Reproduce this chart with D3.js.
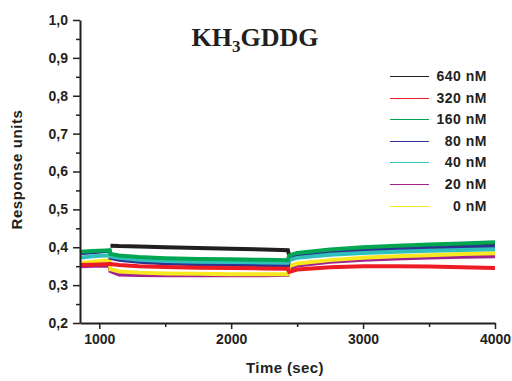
<!DOCTYPE html>
<html>
<head>
<meta charset="utf-8">
<script src="https://cdn.jsdelivr.net/npm/d3@7"></script>
<style>
  body { margin: 0; background: #fff; }
  text { font-family: "Liberation Sans", Arial, sans-serif; font-weight: bold; fill: #231f20; }
  .axis path, .axis line { stroke: #231f20; }
</style>
</head>
<body>
<div id="chart"></div>
<script>
// sampled time points (sec): before step, association, dissociation
var times = [854, 950, 1078,
    1085, 1150, 1300, 1500, 1750, 2000, 2250, 2430,
    2440, 2500, 2750, 3000, 3250, 3500, 3750, 4000];

var concentrations = ["640 nM", "320 nM", "160 nM", "80 nM", "40 nM", "20 nM", "0 nM"];
var colors = ["#231f20", "#ed1c24", "#00a651", "#2e3192", "#2fc0bb", "#a3218e", "#f7e81f"];

var values640 = [null, null, null,
    0.404, 0.403, 0.402, 0.400, 0.398, 0.396, 0.394, 0.392,
    0.378, 0.383, 0.392, 0.397, 0.400, 0.403, 0.405, 0.407];
var values320 = [0.353, 0.354, 0.356,
    0.356, 0.353, 0.350, 0.348, 0.346, 0.345, 0.344, 0.343,
    0.335, 0.341, 0.347, 0.350, 0.350, 0.349, 0.347, 0.345];
var values160 = [0.388, 0.390, 0.392,
    0.382, 0.378, 0.374, 0.371, 0.369, 0.368, 0.367, 0.366,
    0.378, 0.385, 0.394, 0.400, 0.404, 0.407, 0.410, 0.413];
var values80 = [0.384, 0.387, 0.391,
    0.372, 0.367, 0.362, 0.358, 0.355, 0.353, 0.351, 0.350,
    0.372, 0.378, 0.386, 0.391, 0.395, 0.398, 0.400, 0.402];
var values40 = [0.372, 0.376, 0.379,
    0.376, 0.372, 0.367, 0.364, 0.362, 0.361, 0.360, 0.359,
    0.366, 0.372, 0.380, 0.385, 0.388, 0.391, 0.393, 0.395];
var values20 = [0.350, 0.351, 0.352,
    0.337, 0.328, 0.327, 0.326, 0.326, 0.326, 0.326, 0.327,
    0.345, 0.352, 0.362, 0.367, 0.370, 0.373, 0.375, 0.376];
var values0 = [0.358, 0.362, 0.366,
    0.342, 0.336, 0.333, 0.331, 0.330, 0.329, 0.329, 0.329,
    0.350, 0.357, 0.366, 0.372, 0.376, 0.379, 0.382, 0.384];

var seriesValues = [values640, values320, values160, values80, values40, values20, values0];
// drawing order (last on top)
var drawOrder = [5, 6, 0, 3, 4, 2, 1];

var yTicks = [0.2, 0.3, 0.4, 0.5, 0.6, 0.7, 0.8, 0.9, 1.0];
var xTicks = [1000, 2000, 3000, 4000];

var margin = {top: 20, right: 17, bottom: 58, left: 80};
var width = 512 - margin.left - margin.right,
    height = 381 - margin.top - margin.bottom;

var svg = d3.select("#chart").append("svg")
    .attr("width", 512)
    .attr("height", 381)
    .append("g")
    .attr("transform", "translate(" + margin.left + "," + margin.top + ")");

var x = d3.scaleLinear().domain([854, 4000]).range([0, width]);
var y = d3.scaleLinear().domain([0.2, 1.0]).range([height, 0]);

// minor ticks
svg.append("g")
    .attr("class", "axis")
    .attr("transform", "translate(0," + height + ")")
    .call(d3.axisBottom(x).tickValues([1500, 2500, 3500]).tickSize(4).tickFormat(""))
    .call(function(g) { g.select(".domain").remove(); g.selectAll("line").attr("stroke-width", 1.5); });
svg.append("g")
    .attr("class", "axis")
    .call(d3.axisLeft(y).tickValues(d3.range(0.25, 1.0, 0.1)).tickSize(4).tickFormat(""))
    .call(function(g) { g.select(".domain").remove(); g.selectAll("line").attr("stroke-width", 1.5); });

// traces
var line = d3.line()
    .defined(function(d) { return d[1] !== null; })
    .x(function(d) { return x(d[0]); })
    .y(function(d) { return y(d[1]); });

drawOrder.forEach(function(i) {
    var pts = times.map(function(t, j) { return [t, seriesValues[i][j]]; });
    svg.append("path")
        .datum(pts)
        .attr("fill", "none")
        .attr("stroke", colors[i])
        .attr("stroke-width", 4)
        .attr("d", line);
});

// axes
svg.append("g")
    .attr("class", "axis")
    .attr("transform", "translate(0," + height + ")")
    .call(d3.axisBottom(x).tickValues(xTicks).tickSize(6).tickSizeOuter(0).tickPadding(5)
        .tickFormat(d3.format("d")))
    .call(function(g) {
        g.select(".domain").attr("stroke-width", 2);
        g.selectAll("line").attr("stroke-width", 1.5);
        g.selectAll("text").style("font-size", "14px").attr("fill", "#231f20");
    });

svg.append("g")
    .attr("class", "axis")
    .call(d3.axisLeft(y).tickValues(yTicks).tickSize(7).tickSizeOuter(0).tickPadding(5)
        .tickFormat(function(d) { return d3.format(".1f")(d).replace(".", ","); }))
    .call(function(g) {
        g.select(".domain").attr("stroke-width", 2);
        g.selectAll("line").attr("stroke-width", 1.5);
        g.selectAll("text").style("font-size", "14px").attr("fill", "#231f20");
    });

// axis labels
svg.append("text")
    .attr("transform", "rotate(-90)")
    .attr("x", -(y(0.6) - 2))
    .attr("y", 22 - margin.left)
    .style("text-anchor", "middle")
    .style("font-size", "15px")
    .style("letter-spacing", "0.6px")
    .text("Response units");

svg.append("text")
    .attr("x", 205)
    .attr("y", height + 50)
    .style("text-anchor", "middle")
    .style("font-size", "15px")
    .style("letter-spacing", "0.4px")
    .text("Time (sec)");

// title
var title = svg.append("text")
    .attr("x", 175)
    .attr("y", 26)
    .style("text-anchor", "middle")
    .style("font-family", "'Liberation Serif', 'Times New Roman', serif")
    .style("font-size", "26px");
title.append("tspan").text("KH");
title.append("tspan").attr("dy", 6).style("font-size", "17px").text("3");
title.append("tspan").attr("dy", -6).text("GDDG");

// legend
var legend = svg.append("g").attr("transform", "translate(310,56)");
concentrations.forEach(function(c, i) {
    var row = legend.append("g").attr("transform", "translate(0," + (Math.round(i * 21.6) + 0.5) + ")");
    row.append("line")
        .attr("x1", 0).attr("x2", 39)
        .attr("y1", 0).attr("y2", 0)
        .attr("stroke", colors[i])
        .attr("stroke-width", 1);
    row.append("text")
        .attr("x", 97)
        .attr("y", 4.5)
        .style("text-anchor", "end")
        .style("font-size", "14px")
        .style("letter-spacing", "0.5px")
        .text(c);
});
</script>
</body>
</html>
